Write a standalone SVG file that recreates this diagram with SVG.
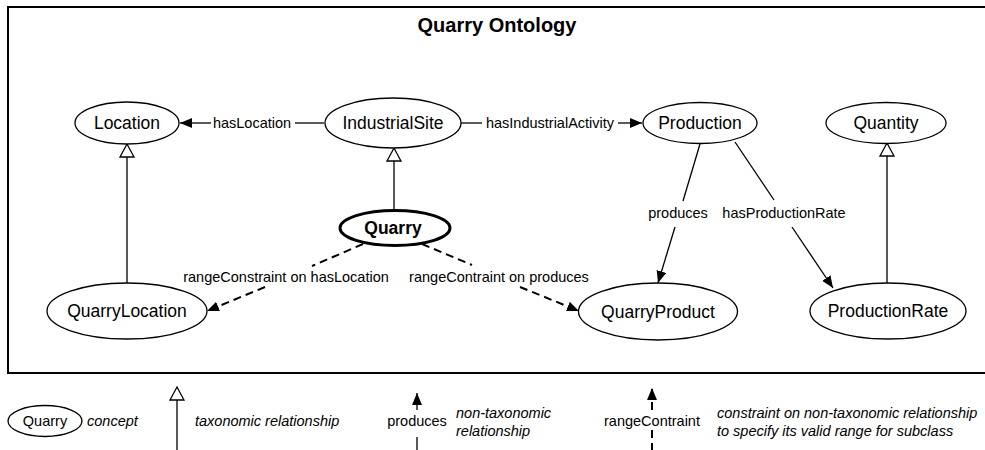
<svg xmlns="http://www.w3.org/2000/svg" width="985" height="450" viewBox="0 0 985 450">
<style>
.node{fill:#fff;stroke:#000;stroke-width:1.3}
.bold{stroke-width:3}
.nl{font-family:"Liberation Sans",Arial,sans-serif;font-size:17.5px;text-anchor:middle;fill:#000}
.el{font-family:"Liberation Sans",Arial,sans-serif;font-size:14.5px;text-anchor:middle;fill:#000}
.it{font-family:"Liberation Sans",Arial,sans-serif;font-size:14.5px;font-style:italic;fill:#000}
.ln{fill:none;stroke:#000;stroke-width:1.3}
.dash{fill:none;stroke:#000;stroke-width:2;stroke-dasharray:8 5}
</style>
<defs>
<marker id="arr" markerUnits="userSpaceOnUse" markerWidth="13" markerHeight="11" refX="12" refY="5" orient="auto">
<path d="M0,0 L12,5 L0,10 z" fill="#000"/>
</marker>
<marker id="tri" markerUnits="userSpaceOnUse" markerWidth="16" markerHeight="17" refX="14" refY="8" orient="auto">
<path d="M1,1 L14,8 L1,15 z" fill="#fff" stroke="#000" stroke-width="1.3"/>
</marker>
</defs>
<rect x="8" y="7" width="985" height="366" fill="#fff" stroke="#000" stroke-width="2"/>
<text x="497" y="32" font-family="Liberation Sans,Arial,sans-serif" font-size="20" font-weight="bold" text-anchor="middle">Quarry Ontology</text>
<g id="connectors">
<line class="ln" x1="324" y1="123" x2="295" y2="123"/>
<line class="ln" x1="211" y1="123" x2="180" y2="123" marker-end="url(#arr)"/>
<text class="el" x="252" y="128">hasLocation</text>
<line class="ln" x1="460" y1="123" x2="482" y2="123"/>
<line class="ln" x1="618" y1="123" x2="642" y2="123" marker-end="url(#arr)"/>
<text class="el" x="550" y="128">hasIndustrialActivity</text>
<line class="ln" x1="394" y1="210" x2="394" y2="148" marker-end="url(#tri)"/>
<line class="ln" x1="127" y1="283" x2="127" y2="144" marker-end="url(#tri)"/>
<line class="ln" x1="887" y1="283" x2="887" y2="143" marker-end="url(#tri)"/>
<line class="ln" x1="700" y1="144" x2="683" y2="201"/>
<line class="ln" x1="675" y1="227" x2="658" y2="283" marker-end="url(#arr)"/>
<text class="el" x="678" y="218">produces</text>
<line class="ln" x1="735" y1="142" x2="774" y2="200"/>
<line class="ln" x1="792" y1="227" x2="833" y2="288" marker-end="url(#arr)"/>
<text class="el" x="784" y="218">hasProductionRate</text>
<line class="dash" x1="363" y1="244" x2="312" y2="266"/>
<line class="dash" x1="265" y1="287" x2="207" y2="311" marker-end="url(#arr)"/>
<text class="el" x="286" y="282">rangeConstraint on hasLocation</text>
<line class="dash" x1="422" y1="244" x2="472" y2="265"/>
<line class="dash" x1="520" y1="287" x2="579" y2="311" marker-end="url(#arr)"/>
<text class="el" x="499" y="282">rangeContraint on produces</text>
</g>
<g id="Location"><ellipse class="node" cx="127" cy="123" rx="52" ry="21"/><text class="nl" x="127" y="129">Location</text></g>
<g id="IndustrialSite"><ellipse class="node" cx="393" cy="123" rx="68" ry="25"/><text class="nl" x="393" y="129">IndustrialSite</text></g>
<g id="Production"><ellipse class="node" cx="700" cy="123" rx="57" ry="20.5"/><text class="nl" x="700" y="129">Production</text></g>
<g id="Quantity"><ellipse class="node" cx="886" cy="123" rx="60" ry="20.5"/><text class="nl" x="886" y="129">Quantity</text></g>
<g id="Quarry"><ellipse class="node bold" cx="395" cy="228" rx="55" ry="17.5"/><text class="nl" x="393" y="234" font-weight="bold">Quarry</text></g>
<g id="QuarryLocation"><ellipse class="node" cx="127" cy="311" rx="80" ry="28"/><text class="nl" x="127" y="317">QuarryLocation</text></g>
<g id="QuarryProduct"><ellipse class="node" cx="658" cy="311.5" rx="79.5" ry="28.5"/><text class="nl" x="658" y="318">QuarryProduct</text></g>
<g id="ProductionRate"><ellipse class="node" cx="888" cy="311" rx="78" ry="28"/><text class="nl" x="888" y="317">ProductionRate</text></g>
<g id="legend">
<ellipse class="node" cx="45" cy="421" rx="37" ry="15.5"/>
<text class="el" x="45" y="426">Quarry</text>
<text class="it" x="87" y="426">concept</text>
<line class="ln" x1="177" y1="450" x2="177" y2="387" marker-end="url(#tri)"/>
<text class="it" x="195" y="426">taxonomic relationship</text>
<line class="ln" x1="417" y1="410" x2="417" y2="393" marker-end="url(#arr)"/>
<line class="ln" x1="417" y1="437" x2="417" y2="450"/>
<text class="el" x="417" y="426">produces</text>
<text class="it" x="456" y="418">non-taxonomic</text>
<text class="it" x="456" y="436">relationship</text>
<line class="dash" x1="652" y1="410" x2="652" y2="388" marker-end="url(#arr)"/>
<line class="dash" x1="652" y1="430" x2="652" y2="450"/>
<text class="el" x="652" y="426">rangeContraint</text>
<text class="it" x="717" y="418">constraint on non-taxonomic relationship</text>
<text class="it" x="717" y="436">to specify its valid range for subclass</text>
</g>
</svg>
